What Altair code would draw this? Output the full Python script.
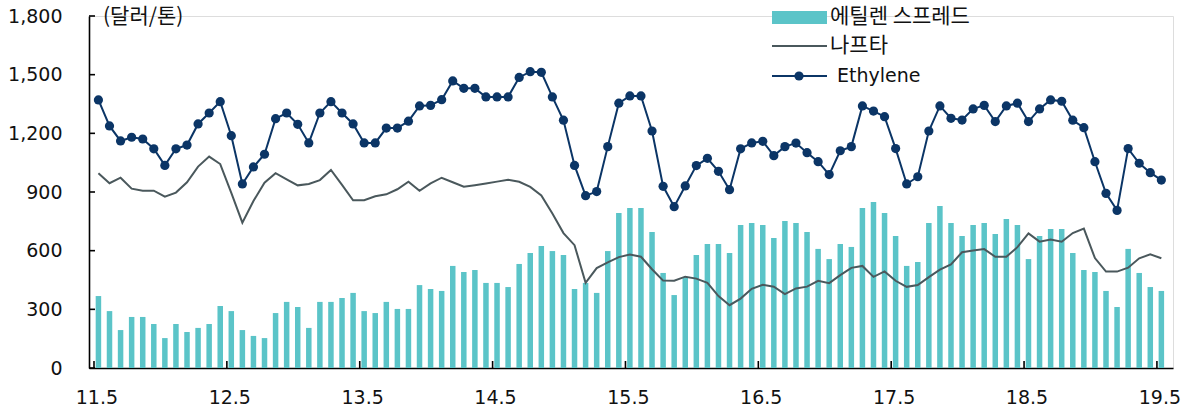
import altair as alt
import pandas as pd

# monthly data, May 2011 .. May 2019 (97 months)
ethylene = [1371, 1238, 1161, 1180, 1171, 1121, 1036, 1121, 1140, 1248, 1304, 1362,
            1188, 941, 1028, 1093, 1275, 1304, 1246, 1151, 1304, 1362, 1304, 1248,
            1151, 1151, 1227, 1227, 1262, 1340, 1343, 1372, 1468, 1430, 1430, 1386,
            1386, 1386, 1486, 1515, 1512, 1386, 1267, 1036, 881, 902, 1132, 1354,
            1391, 1391, 1212, 929, 825, 931, 1035, 1072, 1006, 912, 1121, 1151,
            1159, 1086, 1132, 1150, 1101, 1055, 989, 1111, 1132, 1340, 1314, 1285,
            1122, 941, 978, 1212, 1340, 1277, 1268, 1325, 1343, 1260, 1340, 1354,
            1260, 1325, 1371, 1364, 1267, 1229, 1055, 893, 806, 1122, 1047, 999,
            961]

naphtha = [996, 945, 973, 917, 907, 907, 876, 897, 950, 1030, 1081, 1043,
           895, 743, 854, 948, 996, 965, 934, 941, 961, 1013, 936, 858,
           858, 878, 888, 914, 953, 906, 944, 973, 950, 927, 935, 944,
           953, 963, 952, 926, 882, 790, 690, 628, 436, 511, 540, 567,
           580, 569, 505, 447, 446, 467, 457, 436, 368, 321, 355, 405,
           426, 416, 378, 407, 416, 446, 434, 475, 512, 522, 466, 494,
           446, 415, 424, 465, 503, 530, 592, 601, 608, 569, 569, 618,
           688, 646, 657, 646, 690, 713, 562, 493, 493, 513, 561, 581,
           561]

spread = [368, 291, 194, 261, 261, 225, 153, 225, 184, 205, 225, 317,
          291, 194, 164, 153, 281, 338, 312, 205, 338, 338, 358, 384,
          291, 281, 338, 302, 302, 424, 404, 394, 522, 491, 501, 435,
          435, 414, 532, 588, 624, 598, 578, 404, 435, 384, 598, 793,
          818, 818, 696, 486, 373, 465, 578, 634, 634, 588, 731, 742,
          731, 665, 752, 742, 696, 609, 557, 634, 619, 818, 849, 793,
          675, 522, 542, 742, 828, 742, 675, 731, 742, 685, 762, 731,
          557, 675, 711, 711, 588, 501, 491, 394, 312, 609, 486, 414,
          394]

x_tick_labels = ["11.5", "12.5", "13.5", "14.5", "15.5", "16.5", "17.5", "18.5", "19.5"]
y_ticks = [0, 300, 600, 900, 1200, 1500, 1800]

legend_labels = ["에틸렌 스프레드", "나프타", "Ethylene"]
unit_label = "(달러/톤)"

TEAL = "#5bc4c8"
GRAY = "#4a585c"
NAVY = "#0b3566"
FONT = "DejaVu Sans"
KFONT = "Noto Sans CJK KR"

df = pd.DataFrame({
    "i": list(range(len(ethylene))),
    "ethylene": ethylene,
    "naphtha": naphtha,
    "spread": spread,
})

x_vals = [k * 12 for k in range(len(x_tick_labels))]
label_expr = "[" + ",".join("'%s'" % s for s in x_tick_labels) + "][round(datum.value/12)]"

x_axis = alt.Axis(values=x_vals, labelExpr=label_expr, title=None, grid=False,
                  ticks=False, domainColor="#000", domainWidth=1.6,
                  labelFont=FONT, labelFontSize=19, labelColor="#111",
                  labelPadding=20, labelFlush=False, labelOffset=-2)
y_axis = alt.Axis(values=y_ticks, format=",d", title=None, grid=False,
                  ticks=False, domainColor="#000", domainWidth=1.6,
                  labelFont=FONT, labelFontSize=19, labelColor="#111",
                  labelPadding=27)

x_scale = alt.Scale(domain=[-0.4, 96.6], nice=False, zero=False)
y_scale = alt.Scale(domain=[0, 1800], nice=False)

base = alt.Chart(df)

bars = base.mark_bar(color=TEAL, size=5.5).encode(
    x=alt.X("i:Q", scale=x_scale, axis=x_axis),
    y=alt.Y("spread:Q", scale=y_scale, axis=y_axis),
)

naph = base.mark_line(color=GRAY, strokeWidth=2).encode(
    x=alt.X("i:Q", scale=x_scale, axis=x_axis),
    y=alt.Y("naphtha:Q", scale=y_scale, axis=y_axis),
)

eth = base.mark_line(color=NAVY, strokeWidth=2,
                     point=alt.OverlayMarkDef(filled=True, color=NAVY, size=85, opacity=1)).encode(
    x=alt.X("i:Q", scale=x_scale, axis=x_axis),
    y=alt.Y("ethylene:Q", scale=y_scale, axis=y_axis),
)

# inward tick marks
xt = pd.DataFrame({"pos": [v - 0.4 for v in x_vals]})
x_ticks = alt.Chart(xt).mark_rule(color="#000", strokeWidth=1.6).encode(
    x=alt.X("pos:Q", scale=x_scale, axis=x_axis),
    y=alt.value(345), y2=alt.value(352),
)
yt = pd.DataFrame({"v": y_ticks})
y_ticks_layer = alt.Chart(yt).mark_rule(color="#000", strokeWidth=1.6).encode(
    y=alt.Y("v:Q", scale=y_scale, axis=y_axis),
    x=alt.value(0), x2=alt.value(6),
)

# unit label
unit = alt.Chart(pd.DataFrame({"t": [unit_label]})).mark_text(
    font=KFONT, fontSize=21, align="left", baseline="middle", color="#111"
).encode(text="t:N", x=alt.value(14), y=alt.value(1))

# manual legend
leg_rect = alt.Chart(pd.DataFrame({"a": [0]})).mark_rect(color=TEAL).encode(
    x=alt.value(683), x2=alt.value(738), y=alt.value(-5), y2=alt.value(8))
leg_l1 = alt.Chart(pd.DataFrame({"a": [0]})).mark_rule(color=GRAY, strokeWidth=2).encode(
    x=alt.value(683), x2=alt.value(738), y=alt.value(30))
leg_l2 = alt.Chart(pd.DataFrame({"a": [0]})).mark_rule(color=NAVY, strokeWidth=2).encode(
    x=alt.value(683), x2=alt.value(738), y=alt.value(60))
leg_pt = alt.Chart(pd.DataFrame({"a": [0]})).mark_point(filled=True, color=NAVY, size=85, opacity=1).encode(
    x=alt.value(710), y=alt.value(60))
leg_t1 = alt.Chart(pd.DataFrame({"t": [legend_labels[0]]})).mark_text(
    font=KFONT, fontSize=21, align="left", baseline="middle", color="#111"
).encode(text="t:N", x=alt.value(741), y=alt.value(1))
leg_t2 = alt.Chart(pd.DataFrame({"t": [legend_labels[1]]})).mark_text(
    font=KFONT, fontSize=21, align="left", baseline="middle", color="#111"
).encode(text="t:N", x=alt.value(741), y=alt.value(30))
leg_t3 = alt.Chart(pd.DataFrame({"t": [legend_labels[2]]})).mark_text(
    font=FONT, fontSize=19, align="left", baseline="middle", color="#111"
).encode(text="t:N", x=alt.value(748), y=alt.value(60))

chart = alt.layer(
    bars, naph, eth, x_ticks, y_ticks_layer, unit,
    leg_rect, leg_l1, leg_l2, leg_pt, leg_t1, leg_t2, leg_t3
).properties(
    width=1084, height=352,
    autosize=alt.AutoSizeParams(type="none"),
    padding={"left": 89, "top": 16, "right": 22, "bottom": 42},
).configure_view(stroke=None).configure(background="white")

chart.save("out.html", embed_options={"renderer": "svg", "actions": False})
